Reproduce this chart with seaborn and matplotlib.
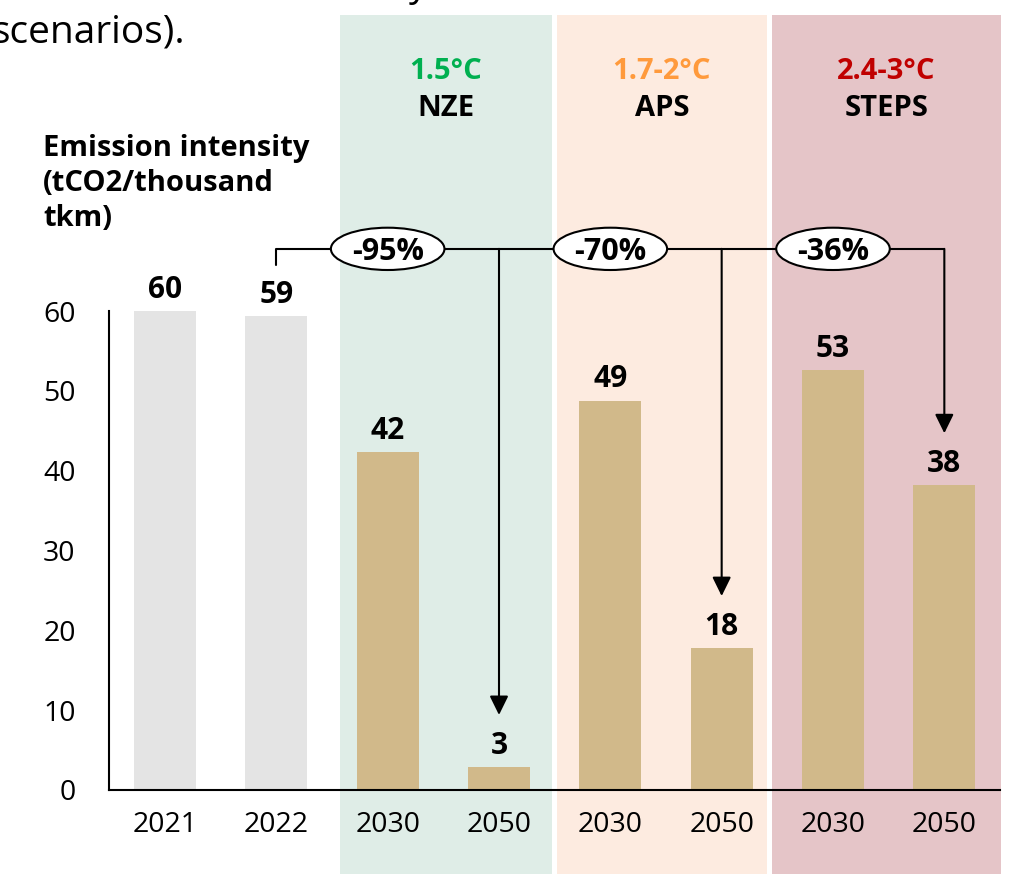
import matplotlib
matplotlib.use("Agg")
import matplotlib.pyplot as plt
from matplotlib.patches import Ellipse
import pandas as pd
import seaborn as sns

# chart values
years = ["2021", "2022", "2030", "2050", "2030", "2050", "2030", "2050"]
groups = ["hist", "hist", "NZE", "NZE", "APS", "APS", "STEPS", "STEPS"]
intensity = [60.0, 59.4, 42.3, 2.9, 48.8, 17.8, 52.6, 38.2]
value_labels = ["60", "59", "42", "3", "49", "18", "53", "38"]
scenarios = ["NZE", "APS", "STEPS"]
temps = ["1.5°C", "1.7-2°C", "2.4-3°C"]
changes = ["-95%", "-70%", "-36%"]

temp_colors = ["#00B050", "#FF9A3C", "#C00000"]
band_colors = ["#DFEDE7", "#FDEBE0", "#E5C5C8"]
band_spans = [(1.571, 3.475), (3.52, 5.406), (5.451, 7.51)]

df = pd.DataFrame({
    "key": [g + y for g, y in zip(groups, years)],
    "kind": ["hist" if g == "hist" else "scen" for g in groups],
    "value": intensity,
})

sns.set_theme(style="white")
plt.rcParams["font.family"] = ["Open Sans", "DejaVu Sans"]
plt.rcParams["text.color"] = "black"

fig = plt.figure(figsize=(10.14, 8.74), dpi=100)
ax = fig.add_axes([109 / 1014, 84 / 874, (1000 - 109) / 1014, (874 - 84 - 15) / 874])
ax.patch.set_alpha(0)

# scenario background bands (run to the bottom of the figure)
for (x0, x1), c in zip(band_spans, band_colors):
    ax.axvspan(x0, x1, ymin=-84 / 775, ymax=1, color=c, lw=0, zorder=0, clip_on=False)

sns.barplot(data=df, x="key", y="value", hue="kind",
            palette={"hist": "#E4E4E4", "scen": "#D1B98A"},
            width=0.557, dodge=False, legend=False, saturation=1,
            linewidth=0, edgecolor="none", ax=ax, zorder=2)

ax.set_xlim(-0.503, 7.5)
ax.set_ylim(0, 97.1)
ax.set_xlabel("")
ax.set_ylabel("")
ax.set_xticks(range(len(years)))
ax.set_xticklabels(years)
ax.set_yticks(range(0, 70, 10))
ax.tick_params(axis="x", length=0, pad=15, labelsize=20.5, colors="black")
ax.tick_params(axis="y", length=8, width=1.5, pad=16, labelsize=20.5, colors="black")
for s in ["top", "right"]:
    ax.spines[s].set_visible(False)
ax.spines["left"].set_bounds(0, 60)
for s in ["left", "bottom"]:
    ax.spines[s].set_linewidth(1.5)
    ax.spines[s].set_color("black")
ax.spines["bottom"].set_zorder(5)

for i, (v, lab) in enumerate(zip(intensity, value_labels)):
    ax.annotate(lab, (i, v), xytext=(0, 9.5), textcoords="offset points",
                ha="center", va="baseline", fontsize=21.5, fontweight="bold")

# connector with reductions
y_line = 67.8
ax.plot([1, 7], [y_line, y_line], color="black", lw=1.5, zorder=3, solid_capstyle="butt")
ax.plot([1, 1], [y_line, y_line - 2.0], color="black", lw=1.5, zorder=3)
for k, (ch, sc) in enumerate(zip(changes, scenarios)):
    i_end = 2 * k + 3
    ax.annotate("", xy=(i_end, intensity[i_end] + 6.5), xytext=(i_end, y_line),
                arrowprops=dict(arrowstyle="-|>,head_length=0.55,head_width=0.27",
                                mutation_scale=21, lw=1.5, color="black",
                                shrinkA=0, shrinkB=0), zorder=3)
    xc = 2 * k + 2
    ax.add_patch(Ellipse((xc, y_line), width=1.02, height=5.3, fc="white",
                         ec="black", lw=1.5, zorder=4))
    ax.annotate(ch, (xc, y_line), xytext=(0, -8), textcoords="offset points",
                ha="center", va="baseline", fontsize=22, fontweight="bold", zorder=5)
    xm = (band_spans[k][0] + band_spans[k][1]) / 2
    ax.text(xm, 89.1, temps[k], ha="center", va="baseline", fontsize=21,
            fontweight="bold", color=temp_colors[k])
    ax.text(xm, 84.5, sc, ha="center", va="baseline", fontsize=21,
            fontweight="bold", color="black")

# axis title and cropped page text
for txt, yb in zip(["Emission intensity", "(tCO2/thousand", "tkm)"], [156, 191, 226]):
    fig.text(43 / 1014, 1 - yb / 874, txt, ha="left", va="baseline",
             fontsize=21, fontweight="bold")
fig.text(185 / 1014, 1 - 43 / 874, "scenarios).", ha="right", va="baseline", fontsize=28)
fig.text(418 / 1014, 1 + 4 / 874, "y", ha="center", va="baseline", fontsize=27)

fig.savefig("out.png", dpi=100)
